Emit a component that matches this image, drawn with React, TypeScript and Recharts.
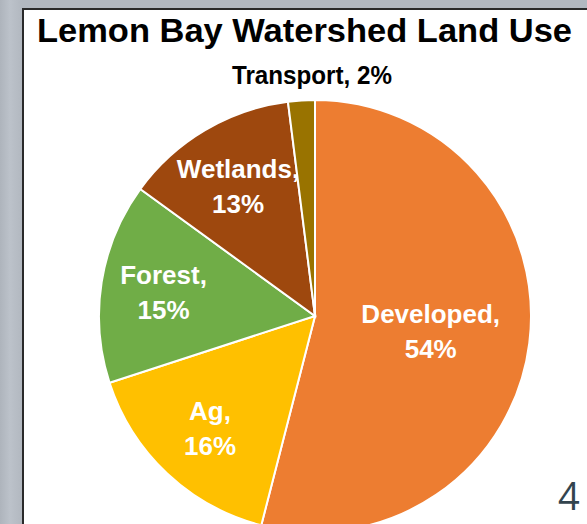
import React from 'react';
import { PieChart, Pie, Cell } from 'recharts';

const categories = ['Developed', 'Ag', 'Forest', 'Wetlands', 'Transport'];
const shares = [54, 16, 15, 13, 2];
const colors = ['#ED7D31', '#FFC000', '#70AD47', '#9E480E', '#997300'];
const titleText = 'Lemon Bay Watershed Land Use';
const slideNumber = '4';

const data = categories.map((name, i) => ({ name, value: shares[i] }));

// label placement (fraction of outer radius); null = outside label
const labelRadius: (number | null)[] = [0.54, 0.71, 0.71, 0.7, null];

const FONT = '"Liberation Sans", Arial, sans-serif';
const RAD = Math.PI / 180;

function renderLabel(props: any) {
  const { cx, cy, midAngle, outerRadius, index, name, value } = props;
  const f = labelRadius[index];
  if (f == null) {
    return (
      <text
        key={`l-${index}`}
        x={cx - 3}
        y={cy - outerRadius - 16}
        textAnchor="middle"
        fill="#000"
        fontFamily={FONT}
        fontWeight="bold"
        fontSize={25}
        textLength={160}
        lengthAdjust="spacingAndGlyphs"
      >
        {`${name}, ${value}%`}
      </text>
    );
  }
  const r = outerRadius * f;
  const x = cx + r * Math.cos(-midAngle * RAD);
  const y = cy + r * Math.sin(-midAngle * RAD);
  return (
    <text
      key={`l-${index}`}
      x={x}
      y={y - 8}
      textAnchor="middle"
      fill="#fff"
      fontFamily={FONT}
      fontWeight="bold"
      fontSize={26}
    >
      <tspan x={x} dy={0}>{`${name},`}</tspan>
      <tspan x={x} dy={35}>{`${value}%`}</tspan>
    </text>
  );
}

export default function App() {
  return (
    <div
      style={{
        position: 'fixed',
        left: 0,
        top: 0,
        width: 587,
        height: 524,
        overflow: 'hidden',
        background: 'linear-gradient(90deg, #aeb4bc 0px, #bcc2ca 10px, #b2b8c0 22px)',
      }}
    >
      <div
        style={{
          position: 'absolute',
          left: 22,
          top: 8,
          width: 587 - 22,
          height: 524 - 8,
          background: '#fff',
          borderLeft: '2px solid #2a2a2a',
          borderTop: '2px solid #2a2a2a',
          boxSizing: 'border-box',
        }}
      />
      <div style={{ position: 'absolute', left: 0, top: 0 }}>
        <PieChart width={587} height={524} margin={{ top: 0, right: 0, bottom: 0, left: 0 }}>
          <Pie
            data={data}
            dataKey="value"
            nameKey="name"
            cx={315}
            cy={316}
            outerRadius={216}
            startAngle={90}
            endAngle={-270}
            stroke="#ffffff"
            strokeWidth={2}
            label={renderLabel}
            labelLine={false}
            isAnimationActive={false}
          >
            {data.map((d, i) => (
              <Cell key={d.name} fill={colors[i]} />
            ))}
          </Pie>
        </PieChart>
      </div>
      <svg
        width={587}
        height={524}
        style={{ position: 'absolute', left: 0, top: 0, pointerEvents: 'none' }}
      >
        <text
          x={37}
          y={42}
          fontFamily={FONT}
          fontWeight="bold"
          fontSize={34}
          fill="#000"
          textLength={535}
          lengthAdjust="spacingAndGlyphs"
        >
          {titleText}
        </text>
        <text x={558} y={510} fontFamily='"Open Sans", sans-serif' fontSize={38} fill="#33444e">
          {slideNumber}
        </text>
      </svg>
    </div>
  );
}
